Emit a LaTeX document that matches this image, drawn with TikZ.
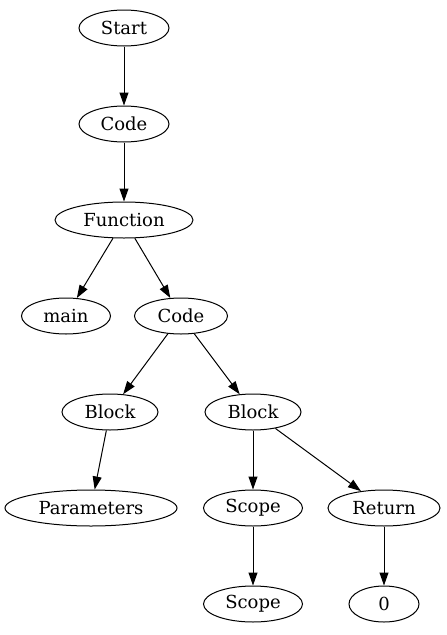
\documentclass[tikz,border=0pt]{standalone}
\usepackage{fontspec}
\setmainfont{DejaVu Serif}
\usetikzlibrary{shapes.geometric,arrows.meta}
\tikzset{
  ast/.style={draw,black,line width=1pt,ellipse,inner sep=0pt,minimum height=36pt,font=\fontsize{18}{20}\selectfont},
  edge/.style={draw,black,line width=1pt,-{Triangle[length=13pt,width=9pt]}}
}
\begin{document}
\begin{tikzpicture}[x=1pt,y=1pt]
            \useasboundingbox (0,0) rectangle (447,-635);
            \node[ast,minimum width=90pt] (start) at (124,-28) {Start};
            \node[ast,minimum width=90pt] (code) at (124,-124) {Code};
            \node[ast,minimum width=138pt] (func) at (124,-220) {Function};
            \node[ast,minimum width=89pt] (main) at (66,-316) {main};
            \node[ast,minimum width=93pt] (body) at (181,-316) {Code};
            \node[ast,minimum width=96pt] (blocka) at (110,-412) {Block};
            \node[ast,minimum width=96pt] (blockb) at (253,-412) {Block};
            \node[ast,minimum width=172pt] (params) at (91,-508) {Parameters};
            \node[ast,minimum width=99pt] (scopea) at (253,-508) {Scope};
            \node[ast,minimum width=112pt] (ret) at (384,-508) {Return};
            \node[ast,minimum width=99pt] (scopeb) at (253,-604) {Scope};
            \node[ast,minimum width=70pt] (zero) at (384,-604) {0};
            \draw[edge] (start) -- (code);
            \draw[edge] (code) -- (func);
            \draw[edge] (func) -- (main);
            \draw[edge] (func) -- (body);
            \draw[edge] (body) -- (blocka);
            \draw[edge] (body) -- (blockb);
            \draw[edge] (blocka) -- (params);
            \draw[edge] (blockb) -- (scopea);
            \draw[edge] (blockb) -- (ret);
            \draw[edge] (scopea) -- (scopeb);
            \draw[edge] (ret) -- (zero);
\end{tikzpicture}
\end{document}
